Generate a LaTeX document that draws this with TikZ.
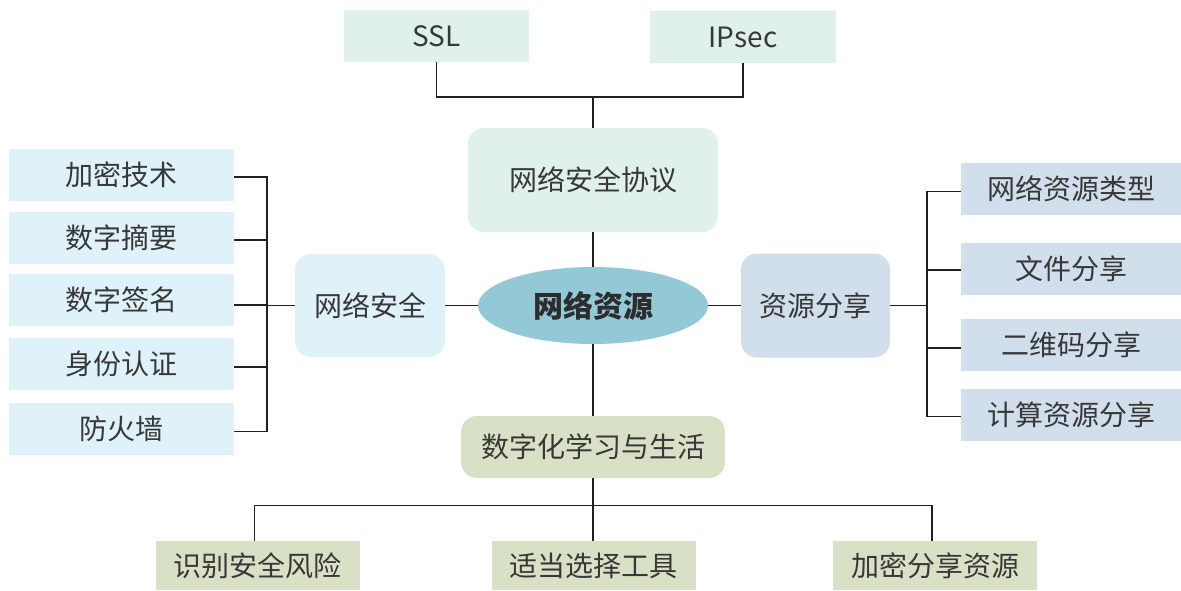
\documentclass[tikz,border=0pt]{standalone}
\usepackage{fontspec}
\newfontfamily\cjk{Noto Sans CJK SC}
\usetikzlibrary{shapes.geometric,calc}
\definecolor{mint}{HTML}{E0F1EC}
\definecolor{skyl}{HTML}{E0F2F9}
\definecolor{greyb}{HTML}{D1DEEB}
\definecolor{sage}{HTML}{D8E0C5}
\definecolor{teal}{HTML}{93C9D6}
\definecolor{txt}{HTML}{383838}
\definecolor{ln}{HTML}{231F20}
\tikzset{
  base/.style={rectangle, inner sep=0pt, text=txt, font=\cjk\fontsize{28}{28}\selectfont},
  rbox/.style={base, rounded corners=16pt},
  conn/.style={draw=ln, line width=1.8pt, line join=miter},
}
\begin{document}
\begin{tikzpicture}[x=1pt,y=-1pt]
\useasboundingbox (0,0) rectangle (1181,590);
% top
\node[base, fill=mint, minimum width=185, minimum height=52] (ssl) at (436.5,36) {SSL};
\node[base, fill=mint, minimum width=186, minimum height=52] (ipsec) at (743,37) {IPsec};
\node[rbox, fill=mint, minimum width=250, minimum height=104] (proto) at (593,180) {网络安全协议};
% center
\node[ellipse, fill=teal, inner sep=0pt, minimum width=230, minimum height=77, text=txt!80!black, font=\cjk\bfseries\fontsize{30}{30}\selectfont] (core) at (593,305.5) {网络资源};
\node[rbox, fill=skyl, minimum width=150, minimum height=103] (sec) at (370,305.5) {网络安全};
\node[rbox, fill=greyb, minimum width=149, minimum height=104] (share) at (815.5,305.5) {资源分享};
\node[rbox, fill=sage, minimum width=264, minimum height=62] (life) at (593,447) {数字化学习与生活};
% left leaves
\node[base, fill=skyl, minimum width=225, minimum height=52] (l1) at (121.5,175) {加密技术};
\node[base, fill=skyl, minimum width=225, minimum height=52] (l2) at (121.5,238) {数字摘要};
\node[base, fill=skyl, minimum width=225, minimum height=52] (l3) at (121.5,300) {数字签名};
\node[base, fill=skyl, minimum width=225, minimum height=52] (l4) at (121.5,364) {身份认证};
\node[base, fill=skyl, minimum width=225, minimum height=52] (l5) at (121.5,429) {防火墙};
% right leaves
\node[base, fill=greyb, minimum width=220, minimum height=52] (r1) at (1071,189) {网络资源类型};
\node[base, fill=greyb, minimum width=220, minimum height=52] (r2) at (1071,269) {文件分享};
\node[base, fill=greyb, minimum width=220, minimum height=52] (r3) at (1071,345) {二维码分享};
\node[base, fill=greyb, minimum width=220, minimum height=52] (r4) at (1071,415) {计算资源分享};
% bottom leaves
\node[base, fill=sage, minimum width=204, minimum height=49] (b1) at (257.5,565.5) {识别安全风险};
\node[base, fill=sage, minimum width=204, minimum height=49] (b2) at (593.5,565.5) {适当选择工具};
\node[base, fill=sage, minimum width=204, minimum height=49] (b3) at (935,565.5) {加密分享资源};
% connectors
\coordinate (tj) at (593,97);
\draw[conn] (ssl.south) |- (tj) -| (ipsec.south);
\draw[conn] (tj) -- (proto.north);
\draw[conn] (proto.south) -- (core.north);
\draw[conn] (core.south) -- (life.north);
\draw[conn] (core.west) -- (sec.east);
\draw[conn] (core.east) -- (share.west);
\coordinate (lb) at (267,305.5);
\draw[conn] (sec.west) -- (lb);
\draw[conn] ($(l1.east)+(0,2)$) -| (lb) |- ($(l5.east)+(0,2.5)$);
\draw[conn] ($(l2.east)+(0,2)$) -- ($(l2.east -| lb)+(0,2)$);
\draw[conn] ($(l3.east)+(0,5)$) -- ($(l3.east -| lb)+(0,5)$);
\draw[conn] ($(l4.east)+(0,3)$) -- ($(l4.east -| lb)+(0,3)$);
\coordinate (rb) at (927,305.5);
\draw[conn] (share.east) -- (rb);
\draw[conn] ($(r1.west)+(0,2.5)$) -| (rb) |- ($(r4.west)+(0,1.5)$);
\draw[conn] ($(r2.west)+(0,1)$) -- ($(r2.west -| rb)+(0,1)$);
\draw[conn] ($(r3.west)+(0,3)$) -- ($(r3.west -| rb)+(0,3)$);
\coordinate (bj) at (593,505.5);
\draw[conn] (life.south) -- (bj);
\draw[conn] (bj) -- (bj |- b2.north);
\draw[conn] ($(b1.north)+(-3,0)$) |- (bj) -| ($(b3.north)+(-3,0)$);
\end{tikzpicture}
\end{document}
